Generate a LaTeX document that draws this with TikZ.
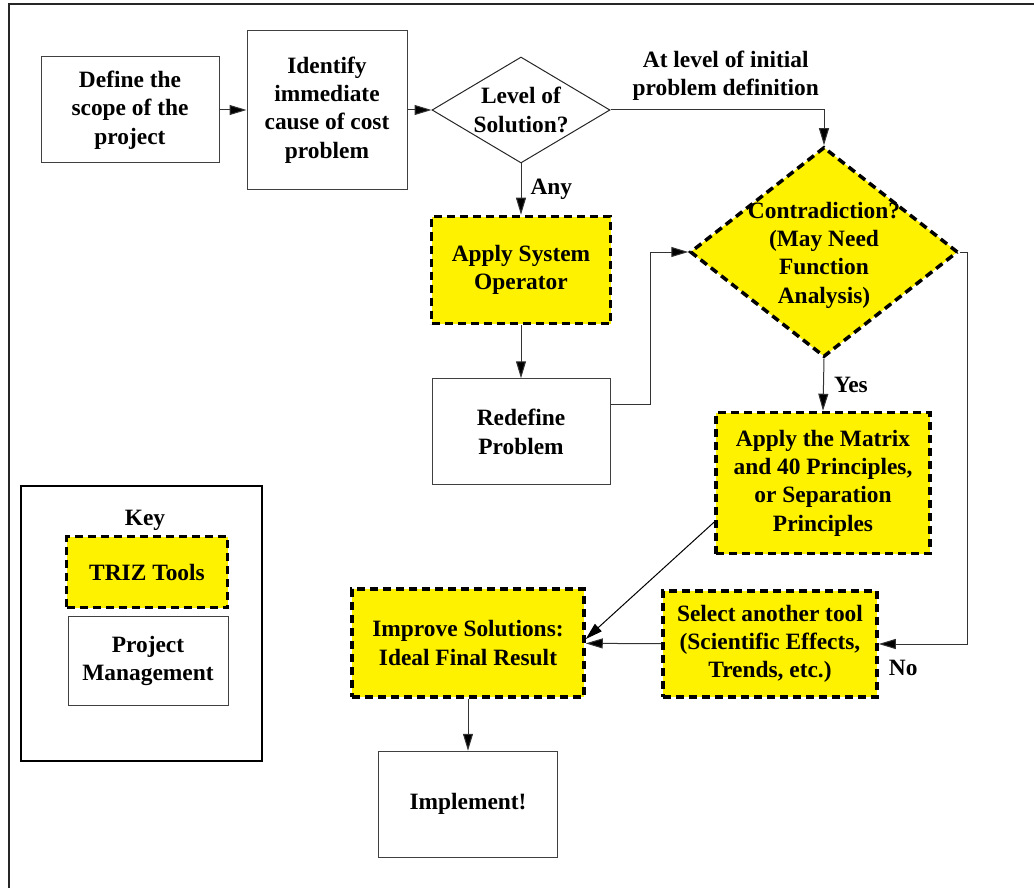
\documentclass[tikz,border=0pt]{standalone}
\usepackage{fontspec}
\setmainfont{Liberation Serif}
\usetikzlibrary{arrows.meta,positioning,shapes.geometric}

\begin{document}
\begin{tikzpicture}[
    x=1pt, y=-1pt,
    every node/.style={font=\bfseries\fontsize{23.4}{28.3}\selectfont},
    pmbox/.style={draw=black!75, line width=1pt, fill=white, align=center, inner sep=0pt},
    trizbox/.style={draw=black, fill=yellow, line width=3.5pt, dash pattern=on 8pt off 5pt, align=center, inner sep=0pt},
    decision/.style={diamond, inner sep=0pt},
    lbl/.style={inner sep=0pt, align=center},
    arr/.style={-{Triangle[length=17pt,width=10pt,fill=black]}, line width=1pt, draw=black!80}
  ]
    \useasboundingbox (0,0) rectangle (1034,888);
    % frame: only left and top edges are visible
    \draw[line width=2pt, black!85] (9,888) -- (9,4) -- (1034,4);

    \node[pmbox, minimum width=178, minimum height=106] (scope) at (130,110) {Define the\\scope of the\\project};
    \node[pmbox, minimum width=160, minimum height=159, right=27pt of scope] (cause) {Identify\\immediate\\cause of cost\\problem};
    \node[decision, draw=black!85, line width=1pt, minimum width=178, minimum height=106,
          label={[lbl]center:Level of\\Solution?}] (level) at (521,110) {};
    \node[trizbox, decision, minimum width=268, minimum height=210,
          label={[lbl, yshift=-3pt]center:Contradiction?\\(May Need\\Function\\Analysis)}] (contra) at (824,252) {};
    \node[trizbox, minimum width=179, minimum height=107] (sysop) at (521,270) {Apply System\\Operator};
    \node[pmbox, minimum width=178, minimum height=106, below=53pt of sysop] (redefine) {Redefine\\Problem};
    \node[trizbox, minimum width=214, minimum height=141] (matrix) at (823,483) {Apply the Matrix\\and 40 Principles,\\or Separation\\Principles};
    \node[trizbox, minimum width=214, minimum height=106] (select) at (770,644) {Select another tool\\(Scientific Effects,\\Trends, etc.)};
    \node[trizbox, minimum width=232, minimum height=108] (improve) at (468,643) {Improve Solutions:\\Ideal Final Result};
    \node[pmbox, minimum width=179, minimum height=106, below=52pt of improve] (implement) {Implement!};

    % key
    \node[draw=black, line width=2pt, minimum width=241, minimum height=275] (keyframe) at (141.5,623.5) {};
    \node[lbl] (keytitle) at (145,520) {Key};
    \node[trizbox, minimum width=161, minimum height=71] (keytriz) at (147,572) {TRIZ Tools};
    \node[pmbox, minimum width=160, minimum height=89] (keypm) at (148,661) {Project\\Management};

    \draw[arr] (scope) -- (cause);
    \draw[arr] (cause) -- (level.west);
    \draw[arr] (level.east) -| node[lbl, pos=0.27, above=9pt] (initlbl) {At level of initial\\problem definition} (contra.north);
    \draw[arr] (level.south) -- node[lbl, right=9pt] (anylbl) {Any} (sysop.north);
    \draw[arr] (sysop) -- (redefine);
    \draw[arr] ([yshift=27pt]redefine.east) -- ++(40,0) |- (contra.west);
    \draw[arr] (contra.south) -- node[lbl, right=10pt] (yeslbl) {Yes} (matrix.north);
    \draw[arr] (contra.east) -- ++(8,0) |- (select.east);
    \node[lbl, anchor=west] (nolbl) at ([xshift=10pt,yshift=-24pt]select.east) {No};
    \draw[arr] (select) -- (improve);
    \draw[arr, draw=black] ([yshift=-39pt]matrix.west) -- ([yshift=4pt]improve.east);
    \draw[arr] (improve) -- (implement);
\end{tikzpicture}
\end{document}
